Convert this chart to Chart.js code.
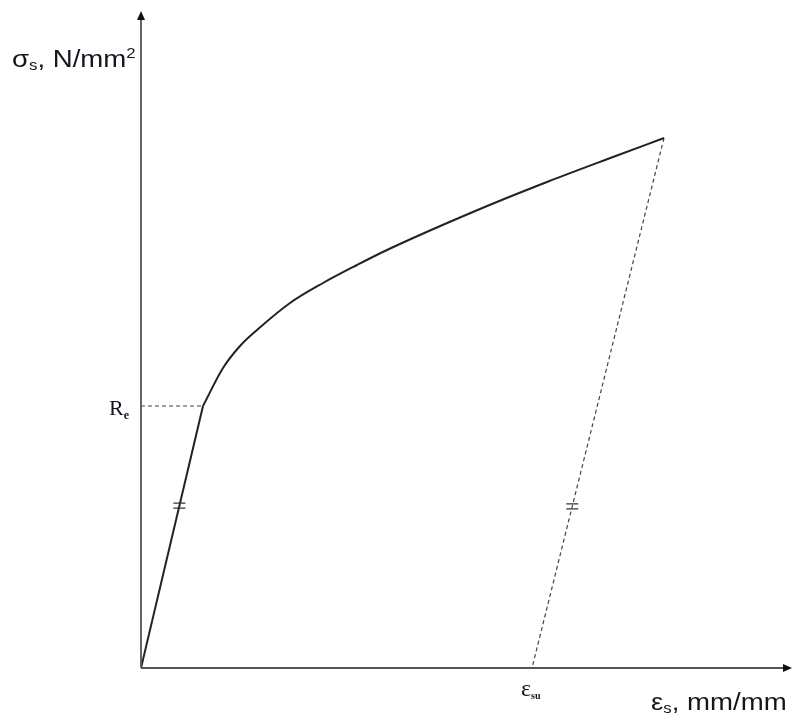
<!DOCTYPE html>
<html>
<head>
<meta charset="utf-8">
<script src="https://cdn.jsdelivr.net/npm/chart.js@4.4.1/dist/chart.umd.min.js"></script>
<style>
  body { margin: 0; background: #fff; }
  canvas { display: block; }
</style>
</head>
<body>
<canvas id="stress" width="792" height="715"></canvas>
<script>
// strain / stress in arbitrary drawing units (no numeric ticks on the original)
const elasticX = [0, 62];
const elasticY = [0, 262];
const hardeningX = [62, 82, 99, 116, 149, 182, 216, 246, 339, 406, 472, 523];
const hardeningY = [262, 300, 322, 338, 365, 385, 403, 418, 459, 486, 511, 530];
const unloadX = [523, 391];
const unloadY = [530, 0];
const yieldLineX = [0, 62];
const yieldLineY = [262, 262];
const xMax = 650;
const yMax = 656;

function toPoints(xs, ys) {
    return xs.map((x, i) => ({x: x, y: ys[i]}));
}

function drawRuns(ctx, x, y, runs, stretch) {
    // runs: [text, font, dy]
    ctx.save();
    ctx.translate(x, y);
    ctx.scale(stretch, 1);
    let cx = 0;
    for (const [text, font, dy] of runs) {
        ctx.font = font;
        ctx.fillText(text, cx, dy);
        cx += ctx.measureText(text).width;
    }
    ctx.restore();
}

function tickMark(ctx, px, py) {
    ctx.beginPath();
    ctx.moveTo(px - 6, py - 2.5);
    ctx.lineTo(px + 6, py - 2.5);
    ctx.moveTo(px - 6, py + 2.5);
    ctx.lineTo(px + 6, py + 2.5);
    ctx.stroke();
}

const axesPlugin = {
    id: 'axesPlugin',
    afterDraw(chart) {
        const ctx = chart.ctx;
        const xs = chart.scales.x;
        const ys = chart.scales.y;
        const x0 = xs.getPixelForValue(0);
        const y0 = ys.getPixelForValue(0);
        const xEnd = xs.getPixelForValue(xMax);
        const yEnd = ys.getPixelForValue(yMax);

        ctx.save();
        ctx.strokeStyle = '#555';
        ctx.fillStyle = '#111';
        ctx.lineWidth = 1.8;
        ctx.beginPath();
        ctx.moveTo(x0, y0);
        ctx.lineTo(x0, yEnd + 6);
        ctx.moveTo(x0, y0);
        ctx.lineTo(xEnd - 6, y0);
        ctx.stroke();
        // arrow heads
        ctx.beginPath();
        ctx.moveTo(x0, yEnd - 1);
        ctx.lineTo(x0 - 4, yEnd + 8);
        ctx.lineTo(x0 + 4, yEnd + 8);
        ctx.closePath();
        ctx.fill();
        ctx.beginPath();
        ctx.moveTo(xEnd + 1, y0);
        ctx.lineTo(xEnd - 8, y0 - 4);
        ctx.lineTo(xEnd - 8, y0 + 4);
        ctx.closePath();
        ctx.fill();

        // "equal slope" marks on elastic and unloading lines
        ctx.strokeStyle = '#333';
        ctx.lineWidth = 1.3;
        const ey = elasticY[1] * 0.62;
        const ex = elasticX[1] * 0.62;
        tickMark(ctx, xs.getPixelForValue(ex), ys.getPixelForValue(ey));
        const uy = unloadY[0] * 0.305;
        const ux = unloadX[1] + (unloadX[0] - unloadX[1]) * 0.305;
        tickMark(ctx, xs.getPixelForValue(ux), ys.getPixelForValue(uy));

        // labels
        ctx.fillStyle = '#15151f';
        ctx.textBaseline = 'alphabetic';
        drawRuns(ctx, 12, 67, [
            ['σ', '23px "Liberation Sans"', 0],
            ['s', '14px "Liberation Sans"', 3],
            [', N/mm', '23px "Liberation Sans"', 0],
            ['2', '14px "Liberation Sans"', -9]
        ], 1.2);
        drawRuns(ctx, 651, 710, [
            ['ε', '23px "Liberation Sans"', 0],
            ['s', '14px "Liberation Sans"', 3],
            [', mm/mm', '23px "Liberation Sans"', 0]
        ], 1.2);
        drawRuns(ctx, 109, ys.getPixelForValue(yieldLineY[0]) + 9, [
            ['R', '22px "Liberation Serif"', 0],
            ['e', 'bold 12px "Liberation Serif"', 4]
        ], 1.0);
        drawRuns(ctx, xs.getPixelForValue(unloadX[1]) - 11, y0 + 28, [
            ['ε', '24px "Liberation Serif"', 0],
            ['su', 'bold 10px "Liberation Serif"', 3]
        ], 1.0);
        ctx.restore();
    }
};

const solidLine = {borderColor: '#222', borderWidth: 2, pointRadius: 0, showLine: true, fill: false};
const dashedLine = {borderColor: '#444', borderWidth: 1.2, borderDash: [4, 3], pointRadius: 0, showLine: true, fill: false};

const config = {
    type: 'scatter',
    data: {
        datasets: [
            Object.assign({label: 'elastic', data: toPoints(elasticX, elasticY)}, solidLine),
            Object.assign({label: 'hardening', data: toPoints(hardeningX, hardeningY), cubicInterpolationMode: 'monotone'}, solidLine),
            Object.assign({label: 'unloading', data: toPoints(unloadX, unloadY)}, dashedLine),
            Object.assign({label: 'Re', data: toPoints(yieldLineX, yieldLineY)}, dashedLine)
        ]
    },
    options: {
        responsive: false,
        animation: false,
        layout: {padding: {left: 141, right: 1, top: 12, bottom: 47}},
        plugins: {legend: {display: false}, tooltip: {enabled: false}},
        scales: {
            x: {type: 'linear', min: 0, max: xMax, display: false},
            y: {type: 'linear', min: 0, max: yMax, display: false}
        }
    },
    plugins: [axesPlugin]
};

const ctx = document.getElementById('stress').getContext('2d');
const stressChart = new Chart(ctx, config);
</script>
</body>
</html>
